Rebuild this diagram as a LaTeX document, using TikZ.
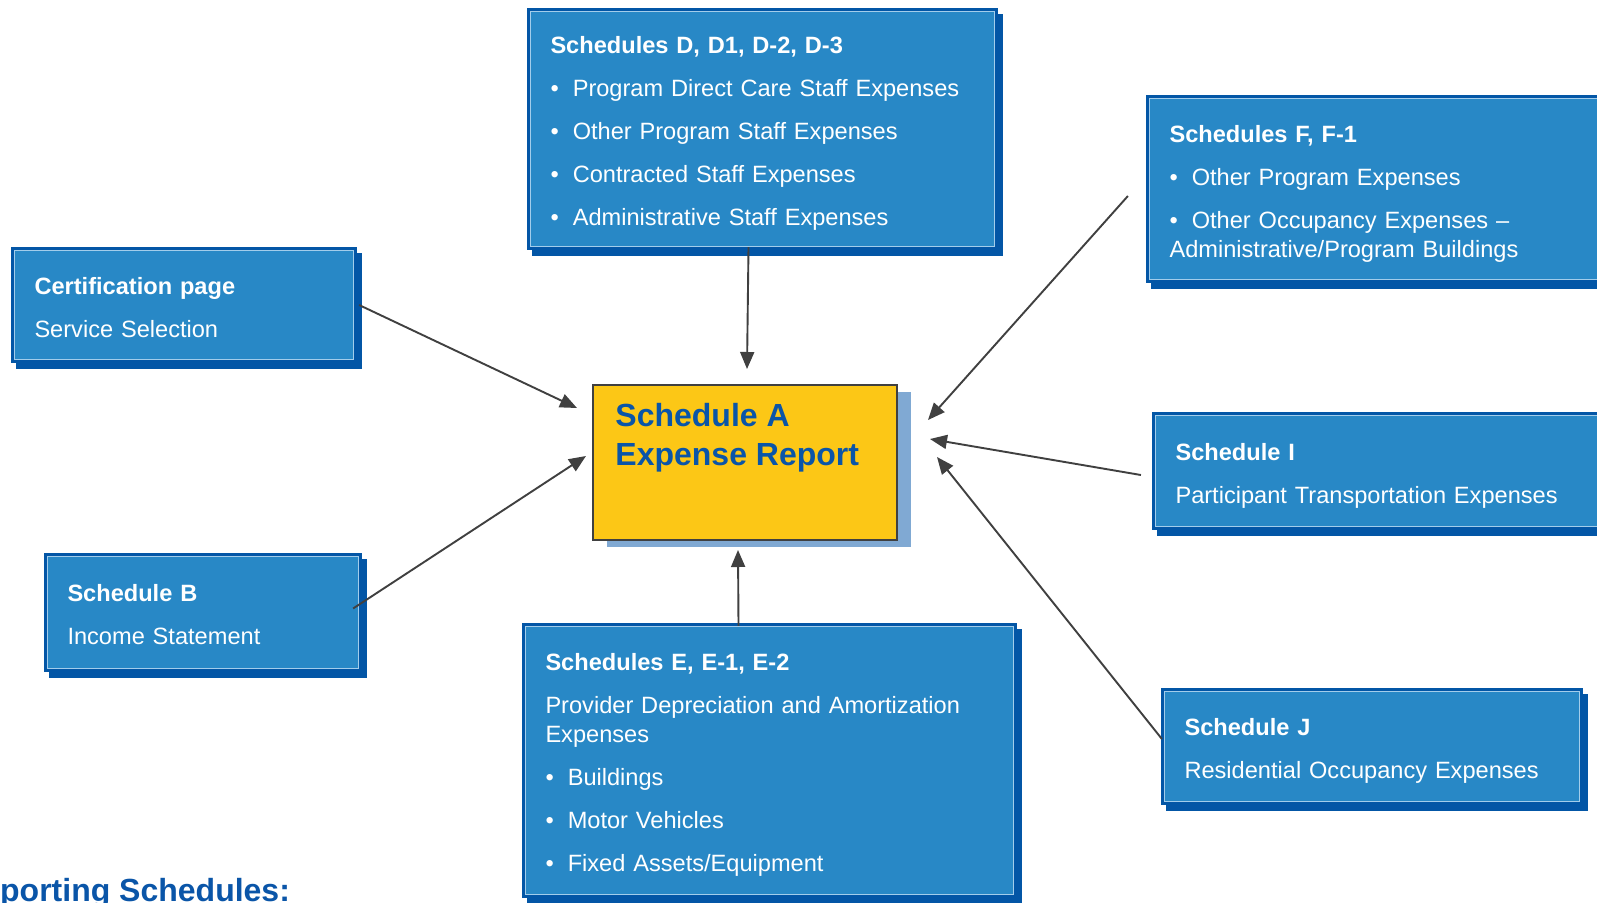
\documentclass[tikz,border=0pt]{standalone}
\usepackage{fontspec}
\setmainfont{Liberation Sans}
\usetikzlibrary{arrows.meta,positioning,shadows}
\definecolor{boxfill}{HTML}{2888C6}
\definecolor{boxedge}{HTML}{0356A6}
\definecolor{boxline}{HTML}{A3CDEB}
\definecolor{reportfill}{HTML}{FCC716}
\definecolor{reportshade}{HTML}{80A9D3}
\definecolor{reporttext}{HTML}{0A55A8}
\definecolor{pil}{HTML}{404040}
% heading line and closing line of a schedule box
\newcommand{\hd}[1]{\rule{0pt}{27pt}\textbf{#1}}
\newcommand{\ld}{\rule[-6pt]{0pt}{6pt}}
\newcommand{\bul}{\textbullet\hspace{14pt}}
\tikzset{
    %Define standard arrow tip
    >={Triangle[length=17pt,width=14pt]},
    %Define style for the schedule boxes
    schedule/.style={
           rectangle,
           general shadow={fill=boxedge, draw=boxedge, line width=7pt,
                           shadow xshift=5pt, shadow yshift=-6pt},
           preaction={draw=boxedge, line width=7pt},
           fill=boxfill,
           draw=boxline, line width=1.2pt,
           inner xsep=20pt, inner ysep=0pt,
           align=left,
           text=white,
           font=\fontsize{23.6}{29}\selectfont},
    %Define style for the report box
    report/.style={
           rectangle,
           general shadow={fill=reportshade, shadow xshift=14pt, shadow yshift=-7pt},
           fill=reportfill,
           draw=pil, line width=1.5pt},
    % Define arrow style
    feed/.style={
           ->,
           color=pil,
           line width=1.9pt}
}
\begin{document}
\begin{tikzpicture}[x=1pt,y=-1pt]
\useasboundingbox[fill=white] (0,0) rectangle (1597,902);
\clip (0,0) rectangle (1597,902);
\node[schedule, text width=299pt, minimum height=109pt] (cert) at (184,305)
    {\hd{Certification page}\\[14pt]Service Selection\ld};
\node[schedule, text width=271pt, minimum height=112pt] (schB) at (203,612.5)
    {\hd{Schedule B}\\[14pt]Income Statement\ld};
\node[schedule, text width=424pt, minimum height=235pt] (schD) at (762.5,129)
    {\hd{Schedules D, D1, D-2, D-3}\\[14pt]
     \bul Program Direct Care Staff Expenses\\[14pt]
     \bul Other Program Staff Expenses\\[14pt]
     \bul Contracted Staff Expenses\\[14pt]
     \bul Administrative Staff Expenses\ld};
\node[schedule, text width=448pt, minimum height=268pt] (schE) at (769.5,760.5)
    {\hd{Schedules E, E-1, E-2}\\[14pt]
     Provider Depreciation and Amortization\\Expenses\\[14pt]
     \bul Buildings\\[14pt]
     \bul Motor Vehicles\\[14pt]
     \bul Fixed Assets/Equipment\ld};
\node[schedule, text width=427pt, minimum height=181pt] (schF) at (1383,189)
    {\hd{Schedules F, F-1}\\[14pt]
     \bul Other Program Expenses\\[14pt]
     \bul Other Occupancy Expenses --\\Administrative/Program Buildings\ld};
\node[schedule, text width=421pt, minimum height=111pt] (schI) at (1386,471)
    {\hd{Schedule I}\\[14pt]Participant Transportation Expenses\ld};
\node[schedule, text width=375pt, minimum height=110pt] (schJ) at (1372,746.5)
    {\hd{Schedule J}\\[14pt]Residential Occupancy Expenses\ld};
\node[report, minimum width=304pt, minimum height=155pt] (report) at (745,462.5) {};
\node[below right=19pt and 23pt of report.north west, inner sep=0pt, align=left,
      text=reporttext, font=\fontsize{32}{39}\selectfont\bfseries] (reporttitle)
    {Schedule A\\Expense Report};
\node[anchor=base west, inner sep=0pt, text=reporttext,
      font=\fontsize{32}{39}\selectfont\bfseries] (support) at (-60.5,901)
    {Supporting Schedules:};
% arrow tips next to Schedule A
\coordinate (tipcert) at (577,408);
\coordinate (tipB) at (586,456);
\coordinate (tipD) at (747,369);
\coordinate (tipE) at (738,550);
\coordinate (tipF) at (928,420);
\coordinate (tipI) at (930,439);
\coordinate (tipJ) at (937,457);
\path[feed]
    ([xshift=5pt]cert.east) edge (tipcert)
    ([xshift=-6pt,yshift=4pt]schB.east) edge (tipB)
    ([xshift=-14pt]schD.south) edge (tipD)
    ([xshift=-31pt]schE.north) edge (tipE)
    ([xshift=-21pt,yshift=-7pt]schF.west) edge (tipF)
    ([xshift=-14pt,yshift=-4pt]schI.west) edge (tipI)
    ([xshift=-2pt,yshift=7.5pt]schJ.west) edge (tipJ);
\end{tikzpicture}
\end{document}
